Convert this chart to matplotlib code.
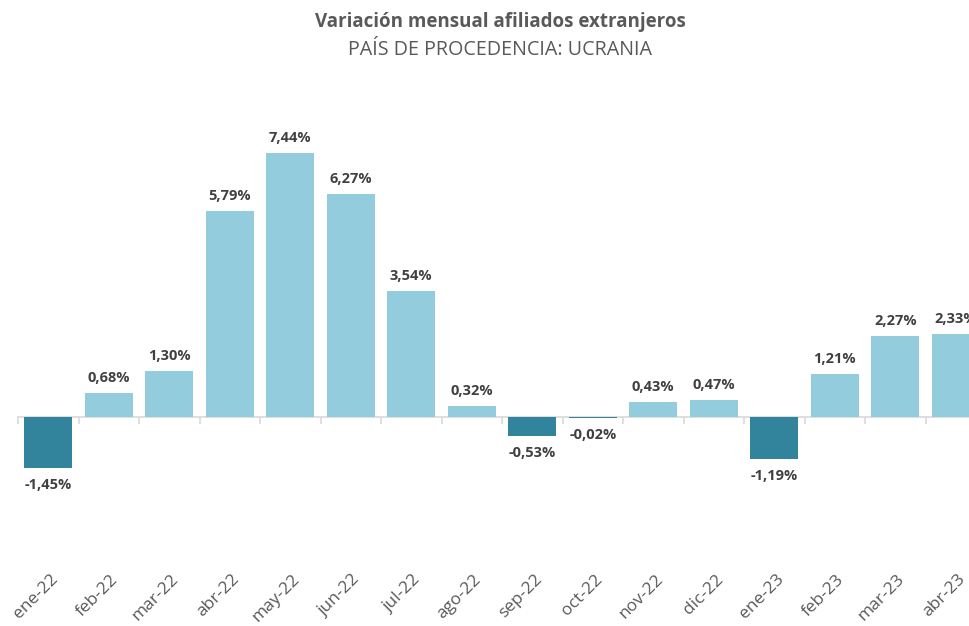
import matplotlib
matplotlib.use("Agg")
import matplotlib.pyplot as plt
import matplotlib.transforms as mtransforms

plt.rcParams['font.family'] = ['Open Sans', 'DejaVu Sans']

categories = ["ene-22", "feb-22", "mar-22", "abr-22", "may-22", "jun-22", "jul-22", "ago-22",
              "sep-22", "oct-22", "nov-22", "dic-22", "ene-23", "feb-23", "mar-23", "abr-23"]
values = [-1.45, 0.68, 1.30, 5.79, 7.44, 6.27, 3.54, 0.32,
          -0.53, -0.02, 0.43, 0.47, -1.19, 1.21, 2.27, 2.33]
labels = ["-1,45%", "0,68%", "1,30%", "5,79%", "7,44%", "6,27%", "3,54%", "0,32%",
          "-0,53%", "-0,02%", "0,43%", "0,47%", "-1,19%", "1,21%", "2,27%", "2,33%"]

POS = "#93CDDD"
NEG = "#31849B"
TXT = "#404040"

W, H = 969, 626
fig = plt.figure(figsize=(W / 100, H / 100), dpi=100)
# axes spans beyond the right edge (chart is cropped in reference)
ax_left, ax_right = 18, 986
ax_top, ax_bottom = 80, 540
ax = fig.add_axes([ax_left / W, 1 - ax_bottom / H, (ax_right - ax_left) / W, (ax_bottom - ax_top) / H])

x = list(range(len(categories)))
colors = [POS if v >= 0 else NEG for v in values]
ax.bar(x, values, width=0.79, color=colors, zorder=2)

ppu = 35.5  # pixels per 1%
zero_px = 417
ymin = -(ax_bottom - zero_px) / ppu
ymax = (zero_px - ax_top) / ppu
ax.set_ylim(ymin, ymax)
ax.set_xlim(-0.5, len(categories) - 0.5)

for s in ["top", "right", "left"]:
    ax.spines[s].set_visible(False)
ax.spines["bottom"].set_position(("data", 0))
ax.spines["bottom"].set_color("#D9D9D9")
ax.spines["bottom"].set_linewidth(1.2)
ax.spines["bottom"].set_zorder(1)
ax.set_yticks([])
ax.set_xticks([i - 0.5 for i in range(len(categories) + 1)])
ax.set_xticklabels([])
ax.tick_params(axis="x", length=5, width=1.2, color="#D9D9D9", direction="out")

off_pos = 8 / ppu
off_neg = 10 / ppu
for i, (v, lab) in enumerate(zip(values, labels)):
    if v >= 0:
        ax.text(i, v + off_pos, lab, ha="center", va="bottom", fontsize=10.5, fontweight="bold", color=TXT)
    else:
        ax.text(i, v - off_neg, lab, ha="center", va="top", fontsize=10.5, fontweight="bold", color=TXT)

trans = mtransforms.blended_transform_factory(ax.transData, fig.transFigure)
for i, c in enumerate(categories):
    ax.text(i + 0.12, 1 - 577 / H, c, transform=trans, rotation=45, rotation_mode="anchor",
            ha="right", va="center", fontsize=12.5, color="#595959", clip_on=False)

fig.text(500 / W, 1 - 22 / H, "Variación mensual afiliados extranjeros", ha="center", va="center",
         fontsize=13.5, fontweight="bold", color="#595959")
fig.text(500 / W, 1 - 50 / H, "PAÍS DE PROCEDENCIA: UCRANIA", ha="center", va="center",
         fontsize=14.2, color="#595959")

fig.savefig("out.png", dpi=100)
